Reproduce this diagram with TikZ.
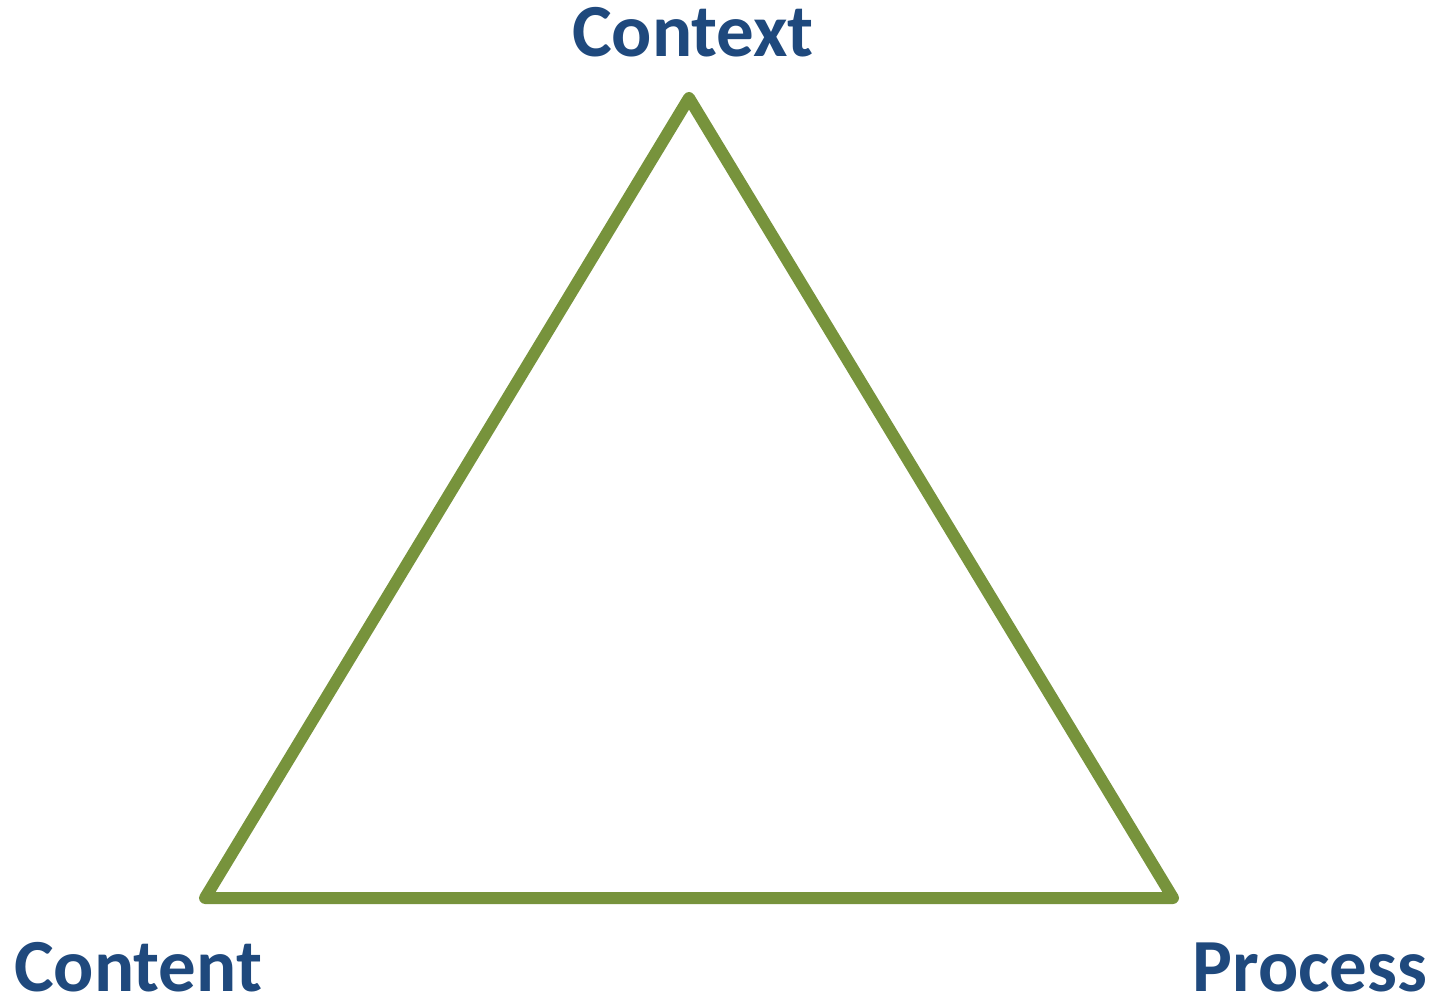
\documentclass[tikz,border=0pt]{standalone}
\usepackage{fontspec}
\setmainfont{Carlito}
\definecolor{tgreen}{HTML}{77933C}
\definecolor{tblue}{HTML}{1F497D}
\begin{document}
\begin{tikzpicture}[x=1pt,y=-1pt,
  lbl/.style={text=tblue,font=\fontsize{75}{82}\selectfont\bfseries,inner sep=0pt,text depth=0pt,anchor=base}]
\useasboundingbox (0,0) rectangle (1439,1000);
\coordinate (top) at (689,98);
\coordinate (bl) at (205,898);
\coordinate (br) at (1173,898);
\draw[tgreen,line width=12pt,line join=round,line cap=round] (top) -- (br) -- (bl) -- cycle;
\node[lbl] (context) at (693,57) {Context};
\node[lbl] (content) at (138,991) {Content};
\node[lbl] (process) at (1310,991) {Process};
\end{tikzpicture}
\end{document}
